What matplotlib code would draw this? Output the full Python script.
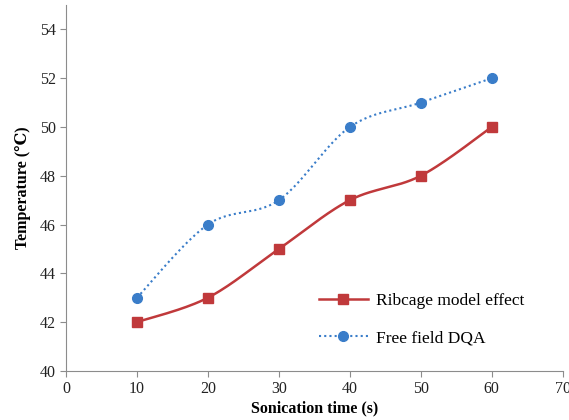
import numpy as np
import matplotlib
matplotlib.use("Agg")
import matplotlib.pyplot as plt

# data
time_s = [10, 20, 30, 40, 50, 60]
ribcage = [42, 43, 45, 47, 48, 50]
free_field = [43, 46, 47, 50, 51, 52]

plt.rcParams['font.family'] = ['Liberation Serif', 'DejaVu Serif']


def smooth(x, y, n=30):
    # Excel-like smoothed line (Catmull-Rom style bezier through the points)
    x = np.asarray(x, float)
    y = np.asarray(y, float)
    px = np.concatenate([[x[0]], x, [x[-1]]])
    py = np.concatenate([[y[0]], y, [y[-1]]])
    xs, ys = [], []
    t = np.linspace(0, 1, n)
    for i in range(1, len(x)):
        p0 = np.array([px[i], py[i]])
        p3 = np.array([px[i + 1], py[i + 1]])
        c1 = p0 + (np.array([px[i + 1], py[i + 1]]) - np.array([px[i - 1], py[i - 1]])) / 6
        c2 = p3 - (np.array([px[i + 2], py[i + 2]]) - np.array([px[i], py[i]])) / 6
        b = ((1 - t) ** 3)[:, None] * p0 + (3 * (1 - t) ** 2 * t)[:, None] * c1 \
            + (3 * (1 - t) * t ** 2)[:, None] * c2 + (t ** 3)[:, None] * p3
        xs.extend(b[:, 0])
        ys.extend(b[:, 1])
    return xs, ys


fig = plt.figure(figsize=(5.69, 4.20), dpi=100)
ax = fig.add_axes([0.116, 0.117, 0.873, 0.871])

red = '#c0393b'
blue = '#3a7dc9'

sx, sy = smooth(time_s, ribcage)
ax.plot(sx, sy, color=red, linewidth=1.8)
ax.plot(time_s, ribcage, 's', color=red, markersize=7)
ax.plot([], [], '-s', color=red, linewidth=1.8, markersize=7, label='Ribcage model effect')

sx, sy = smooth(time_s, free_field)
ax.plot(sx, sy, color=blue, linewidth=1.5, linestyle=(0, (1, 1.5)))
ax.plot(time_s, free_field, 'o', color=blue, markersize=7)
ax.plot([], [], 'o', color=blue, linewidth=1.5, linestyle=(0, (1, 1.5)),
        markersize=7, label='Free field DQA')

ax.set_xlim(0, 70)
ax.set_ylim(40, 55)
ax.set_xticks(range(0, 71, 10))
ax.set_yticks(range(40, 55, 2))
ax.spines['top'].set_visible(False)
ax.spines['right'].set_visible(False)
for s in ['left', 'bottom']:
    ax.spines[s].set_color('#8c8c8c')
ax.tick_params(colors='#8c8c8c', labelcolor='#222222', labelsize=11.5, length=4)

ax.set_xlabel('Sonication time (s)', fontsize=11.5, fontweight='bold', labelpad=2)
ax.set_ylabel('Temperature (\u2103)', fontsize=11.5, fontweight='bold', labelpad=6)

ax.legend(loc='lower right', bbox_to_anchor=(0.955, 0.025), frameon=False,
          fontsize=12.5, handlelength=2.8, handletextpad=0.5, labelspacing=1.2)

fig.savefig('out.png', dpi=100)
